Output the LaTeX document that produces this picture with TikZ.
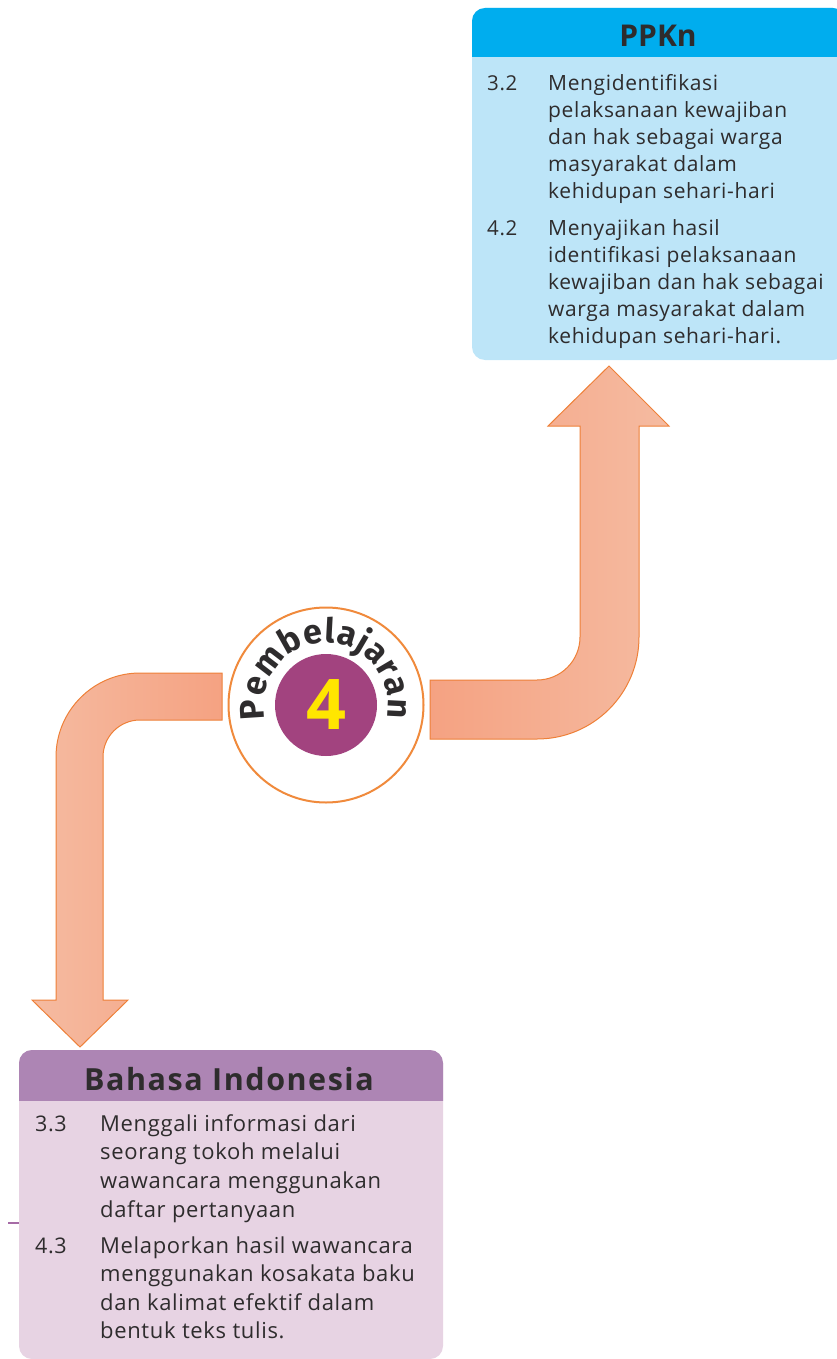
\documentclass[tikz,border=0pt]{standalone}
\usepackage{fontspec}
\setmainfont{Open Sans}
\newfontfamily\topfont[LetterSpace=3]{Open Sans}
\newfontfamily\lowfont[LetterSpace=3]{Open Sans}
\newfontfamily\widetitle[LetterSpace=5]{Open Sans}
\newfontfamily\ringfont{Fira Sans}
\usetikzlibrary{decorations.text}

\definecolor{hdrblue}{HTML}{00ADEE}
\definecolor{bodyblue}{HTML}{BDE5F8}
\definecolor{hdrpurple}{HTML}{AD85B4}
\definecolor{bodypurple}{HTML}{E7D3E3}
\definecolor{arrowdark}{HTML}{F5A282}
\definecolor{arrowlight}{HTML}{F5BBA1}
\definecolor{arrowline}{HTML}{EE8038}
\definecolor{ringorange}{HTML}{F08A3C}
\definecolor{badgepurple}{HTML}{A2437F}
\definecolor{badgeyellow}{HTML}{FFE600}
\definecolor{inktext}{HTML}{2E2C2D}
\definecolor{tickpurple}{HTML}{A66BA6}

\tikzset{
  bendarrow/.style={draw=arrowline, line width=1pt, line join=miter},
  title/.style={text=inktext, inner sep=0pt, anchor=base},
  itemnum/.style={text=inktext, inner sep=0pt, anchor=base west},
  itemtext/.style={inner sep=0pt, anchor=base west, text=inktext},
}

\begin{document}
\begin{tikzpicture}[x=1pt, y=-1pt]
\useasboundingbox (0,0) rectangle (837,1359);
\clip (0,0) rectangle (837,1359);

% ---------- PPKn box ----------
\fill[bodyblue, rounded corners=13pt] (472,8) rectangle (846,360);
\begin{scope}
  \clip (472,8) rectangle (846,57);
  \fill[hdrblue, rounded corners=13pt] (472,8) rectangle (846,360);
\end{scope}
\node[title, font=\bfseries\fontsize{30}{30}\selectfont] (ppkn) at (658,47) {PPKn};
\node[itemnum, font=\topfont\fontsize{20.5}{27}\selectfont] (n32) at (487,91) {3.2};
\node[itemtext] (t32) at (548,91) {\parbox[t]{300pt}{\topfont\fontsize{21}{27}\selectfont\raggedright
  Mengidentifikasi\\ pelaksanaan kewajiban\\ dan hak sebagai warga\\ masyarakat dalam\\ kehidupan sehari-hari}};
\node[itemnum, font=\topfont\fontsize{20.5}{27}\selectfont] (n42) at (487,235) {4.2};
\node[itemtext] (t42) at (548,235) {\parbox[t]{300pt}{\topfont\fontsize{21}{27}\selectfont\raggedright
  Menyajikan hasil\\ identifikasi pelaksanaan\\ kewajiban dan hak sebagai\\ warga masyarakat dalam\\ kehidupan sehari-hari.}};

% ---------- Bahasa Indonesia box ----------
\fill[bodypurple, rounded corners=13pt] (19,1050) rectangle (443,1359);
\begin{scope}
  \clip (19,1050) rectangle (443,1100);
  \fill[hdrpurple, rounded corners=13pt] (19,1050) rectangle (443,1359);
\end{scope}
\draw[tickpurple, line width=2.5pt] (8,1223) -- (19,1223);
\node[title, font=\widetitle\bfseries\fontsize{30.5}{30}\selectfont] (bindo) at (229,1090) {Bahasa Indonesia};
\node[itemnum, font=\lowfont\fontsize{21.5}{28.5}\selectfont] (n33) at (35,1131) {3.3};
\node[itemtext] (t33) at (100,1131) {\parbox[t]{340pt}{\lowfont\fontsize{22}{28.7}\selectfont\raggedright
  Menggali informasi dari\\ seorang tokoh melalui\\ wawancara menggunakan\\ daftar pertanyaan}};
\node[itemnum, font=\lowfont\fontsize{21.5}{28.5}\selectfont] (n43) at (35,1253) {4.3};
\node[itemtext] (t43) at (100,1253) {\parbox[t]{340pt}{\lowfont\fontsize{22}{28.5}\selectfont\raggedright
  Melaporkan hasil wawancara\\ menggunakan kosakata baku\\ dan kalimat efektif dalam\\ bentuk teks tulis.}};

% ---------- bent arrow down to Bahasa Indonesia ----------
\path[bendarrow, left color=arrowlight, right color=arrowdark]
  (222,673) -- (140,673) arc[start angle=-90, end angle=-180, radius=84]
  -- (56,1000) -- (32,1000) -- (80,1047) -- (128,1000) -- (103,1000)
  -- (103,757) arc[start angle=180, end angle=270, radius=37]
  -- (222,720) -- cycle;

% ---------- bent arrow up to PPKn ----------
\path[bendarrow, left color=arrowdark, right color=arrowlight]
  (430,680) -- (537,680) arc[start angle=90, end angle=0, radius=43]
  -- (580,426) -- (548,426) -- (609,366) -- (669,426) -- (639,426)
  -- (639,637) arc[start angle=0, end angle=90, radius=102]
  -- (430,739) -- cycle;

% ---------- Pembelajaran badge ----------
\node[circle, draw=ringorange, line width=2pt, fill=white, minimum size=195pt, inner sep=0pt] (ring) at (326,705) {};
\node[circle, fill=badgepurple, minimum size=102pt, inner sep=0pt] (badge) at (326,705) {};
\node[font=\bfseries\fontsize{70}{70}\selectfont, text=badgeyellow, inner sep=0pt] (four) at (badge.center) {4};
\path[decorate, font=\ringfont\bfseries\fontsize{34}{34}\selectfont,
    decoration={text along path, text align=fit to path,
    text={|\ringfont\bfseries\fontsize{34}{34}\selectfont\color{inktext}|Pembelajaran}}]
  (ring.center) ++(-193:62) arc[start angle=-193, end angle=12, radius=62];
\end{tikzpicture}
\end{document}
